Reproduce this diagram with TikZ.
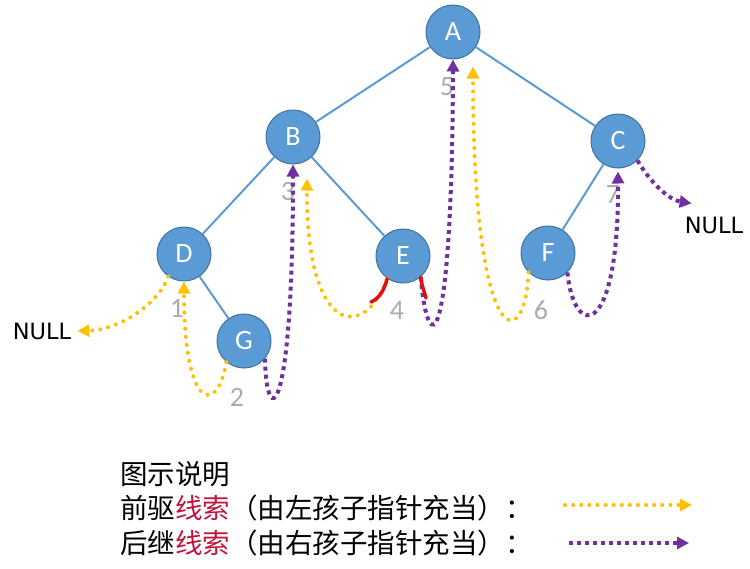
\documentclass[tikz,border=0pt]{standalone}
\usepackage{fontspec}
\setmainfont{Carlito}
\newfontfamily\cjkfont{Noto Sans CJK SC}
\newfontfamily\labelfont{DejaVu Sans}
\usetikzlibrary{arrows.meta}
\definecolor{nodeblue}{HTML}{5B9BD5}
\definecolor{nodeedge}{HTML}{41719C}
\definecolor{preyellow}{HTML}{FFC000}
\definecolor{sucpurple}{HTML}{7030A0}
\definecolor{markred}{HTML}{E01010}
\definecolor{legendred}{HTML}{C0143C}

\begin{document}
\begin{tikzpicture}[x=1pt,y=-1pt,
  tnode/.style={circle,fill=nodeblue,draw=nodeedge,line width=1pt,minimum size=54pt,
    inner sep=0pt,text=white,font=\fontsize{28}{28}\selectfont},
  branch/.style={draw=nodeblue,line width=2pt},
  pre/.style={preyellow,line width=4pt,line cap=round,dash pattern=on 0.1pt off 8pt,
    -{Triangle[length=12pt,width=12pt]}},
  suc/.style={sucpurple,line width=4pt,dash pattern=on 4pt off 4pt,
    -{Triangle[length=12pt,width=12pt]}},
  redmark/.style={markred,line width=3.5pt,line cap=round},
  num/.style={text=gray!65,font=\fontsize{28}{28}\selectfont},
  nulltext/.style={font=\labelfont\fontsize{22.5}{22.5}\selectfont},
  legend/.style={anchor=west,inner sep=0pt,font=\cjkfont\fontsize{27.5}{27.5}\selectfont}]
\useasboundingbox (0,0) rectangle (750,568);

\node[tnode] (A) at (453,32) {A};
\node[tnode] (B) at (293,137) {B};
\node[tnode] (C) at (618,141) {C};
\node[tnode] (D) at (184,254) {D};
\node[tnode] (E) at (403,256) {E};
\node[tnode] (F) at (548,253) {F};
\node[tnode] (G) at (244,341) {G};

\draw[branch] (A) -- (B);
\draw[branch] (A) -- (C);
\draw[branch] (B) -- (D);
\draw[branch] (B) -- (E);
\draw[branch] (C) -- (F);
\draw[branch] (D) -- (G);

\node[nulltext,inner xsep=6pt] (nullL) at (42,331) {NULL};
\node[nulltext,inner sep=0pt] (nullR) at (714,225) {NULL};

\node[num] (n1) at (177,308) {1};
\node[num] (n2) at (237,397) {2};
\node[num] (n3) at (288,192) {3};
\node[num] (n4) at (397,311) {4};
\node[num] (n5) at (447,87) {5};
\node[num] (n6) at (541,310) {6};
\node[num] (n7) at (613,195) {7};

\draw[pre] (D.235) .. controls (158,305) and (118,330) .. (nullL.east);
\draw[pre] (G.230) .. controls (218,414) and (184,414) .. (D.south);
\draw[suc] (G.320) .. controls (266,428) and (293,428) .. (B.south);
\draw[pre] (E.235) .. controls (364,342) and (306,335) .. ([xshift=14pt,yshift=-14pt]B.south);
\draw[suc] (E.310) .. controls (428,360) and (452,360) .. (A.south);
\draw[pre] (F.225) .. controls (525,355) and (473,355) .. ([xshift=20pt,yshift=-7pt]A.south);
\draw[suc] (F.315) .. controls (574,340) and (619,340) .. ([yshift=-3pt]C.south);
\draw[suc] (C.315) .. controls (652,185) and (670,200) .. ([xshift=7pt,yshift=13pt]nullR.north west);

\draw[redmark] (E.235) .. controls (384,290) and (380,298) .. (371,302);
\draw[redmark] (E.310) .. controls (422,285) .. (426,298);

\node[legend] (cap) at (120,474) {图示说明};
\node[legend] (prerow) at (120,508) {前驱\textcolor{legendred}{线索}（由左孩子指针充当）：};
\node[legend] (sucrow) at (120,543) {后继\textcolor{legendred}{线索}（由右孩子指针充当）：};
\coordinate (preL) at (565,505);
\coordinate (preR) at (692,505);
\coordinate (sucL) at (569,543);
\coordinate (sucR) at (689,543);
\draw[pre] (preL) -- (preR);
\draw[suc] (sucL) -- (sucR);
\end{tikzpicture}
\end{document}
